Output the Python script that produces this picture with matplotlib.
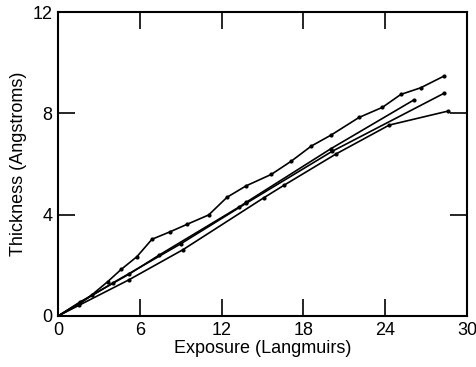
import matplotlib
matplotlib.use('Agg')
import matplotlib.pyplot as plt

# series
xa = [0, 1.5, 2.47, 3.63, 4.63, 5.78, 6.89, 8.24, 9.46, 11.05, 12.4, 13.8,
      15.64, 17.1, 18.58, 20.05, 22.08, 23.8, 25.15, 26.6, 28.3]
ya = [0, 0.45, 0.83, 1.35, 1.84, 2.34, 3.03, 3.33, 3.62, 3.99, 4.69, 5.14,
      5.59, 6.11, 6.71, 7.15, 7.84, 8.24, 8.75, 9.01, 9.47]

xb = [0, 1.6, 5.2, 7.4, 13.3, 13.8, 20.0, 26.1]
yb = [0, 0.55, 1.65, 2.4, 4.31, 4.49, 6.6, 8.53]

xc = [0, 4.0, 9.0, 13.8, 20.1, 28.3]
yc = [0, 1.3, 2.85, 4.45, 6.5, 8.79]

xd = [0, 5.17, 9.17, 15.1, 16.6, 20.4, 24.3, 28.6]
yd = [0, 1.42, 2.62, 4.67, 5.17, 6.4, 7.54, 8.09]

x_ticks = [0, 6, 12, 18, 24, 30]
y_ticks = [0, 4, 8, 12]

plt.rcParams['font.family'] = ['Liberation Sans', 'DejaVu Sans']

fig = plt.figure(figsize=(4.76, 3.67), dpi=100)
ax = fig.add_axes([0.122, 0.139, 0.859, 0.828])

for xs, ys in [(xa, ya), (xb, yb), (xc, yc), (xd, yd)]:
    ax.plot(xs, ys, color='black', lw=1.2, marker='o', ms=2)

ax.set_xlim(0, 30)
ax.set_ylim(0, 12)
ax.set_xticks(x_ticks)
ax.set_yticks(y_ticks)
ax.tick_params(direction='in', length=12, width=1.2, top=True, right=True,
               labelsize=13, pad=4, color='black')
for s in ax.spines.values():
    s.set_linewidth(1.5)

ax.set_xlabel('Exposure (Langmuirs)', fontsize=13, labelpad=1)
ax.set_ylabel('Thickness (Angstroms)', fontsize=13, labelpad=4)

fig.savefig('out.png', dpi=100)
